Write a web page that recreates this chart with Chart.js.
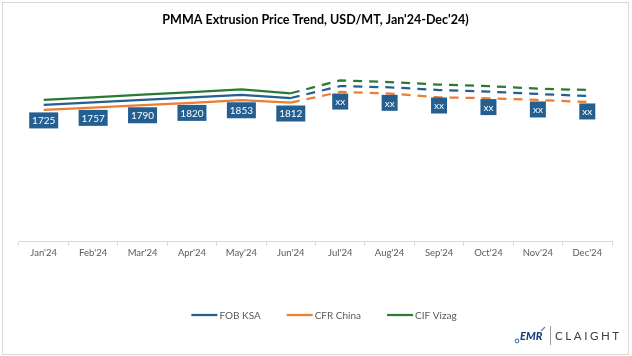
<!DOCTYPE html>
<html>
<head>
<meta charset="utf-8">
<script src="https://cdn.jsdelivr.net/npm/chart.js@4.4.1/dist/chart.umd.min.js"></script>
<style>
  html, body { margin: 0; padding: 0; background: #fff; }
  #wrap { position: relative; width: 632px; height: 356px; }
  canvas { display: block; }
</style>
</head>
<body>
<div id="wrap"><canvas id="c" width="632" height="356"></canvas></div>
<script>
const months = ["Jan'24","Feb'24","Mar'24","Apr'24","May'24","Jun'24","Jul'24","Aug'24","Sep'24","Oct'24","Nov'24","Dec'24"];
const fobKsa   = [1725,1757,1790,1820,1853,1812,1963,1947,1913,1893,1863,1838];
const cfrChina = [1662,1692,1722,1752,1785,1755,1888,1868,1821,1809,1787,1762];
const cifVizag = [1787,1820,1855,1887,1920,1872,2035,2013,1981,1963,1930,1913];
const fobLabels = ["1725","1757","1790","1820","1853","1812","xx","xx","xx","xx","xx","xx"];
const seriesNames = ["FOB KSA","CFR China","CIF Vizag"];
const seriesColors = ["#245F92","#ED7D31","#2A7A34"];
const forecastFrom = 5; // index where dashed (forecast) part begins

const FONT = "Lato, 'Open Sans', sans-serif";

function mkDataset(name, data, color) {
  return {
    label: name,
    data: data,
    borderColor: color,
    backgroundColor: color,
    borderWidth: 2.25,
    pointRadius: 0,
    pointHoverRadius: 0,
    tension: 0,
    borderCapStyle: 'butt',
    segment: {
      borderDash: ctx => ctx.p0DataIndex >= forecastFrom ? [9, 7] : undefined
    }
  };
}

const frame = {
  id: 'frame',
  afterDraw(chart) {
    const ctx = chart.ctx;
    ctx.save();
    ctx.strokeStyle = '#d9d9d9';
    ctx.lineWidth = 1;
    ctx.strokeRect(2.5, 2.5, 626, 352);
    ctx.restore();
  }
};

const dataLabels = {
  id: 'dataLabels',
  afterDatasetsDraw(chart) {
    const ctx = chart.ctx;
    const meta = chart.getDatasetMeta(0);
    ctx.save();
    ctx.font = "10px " + FONT;
    ctx.textAlign = 'center';
    ctx.textBaseline = 'middle';
    meta.data.forEach((pt, i) => {
      const txt = fobLabels[i];
      const w = Math.round(ctx.measureText(txt).width + 6);
      const h = 16;
      const x = pt.x - w / 2;
      const y = pt.y + 7.5;
      ctx.fillStyle = '#245F92';
      ctx.fillRect(x, y, w, h);
      ctx.fillStyle = '#ffffff';
      ctx.fillText(txt, pt.x, y + h / 2 + 0.5);
    });
    ctx.restore();
  }
};

const customLegend = {
  id: 'customLegend',
  afterDraw(chart) {
    const ctx = chart.ctx;
    ctx.save();
    ctx.font = "10px " + FONT;
    const lineLen = 26, gapLT = 2, gapItem = 26;
    const items = chart.data.datasets.map(ds => ({
      text: ds.label, color: ds.borderColor,
      w: lineLen + gapLT + ctx.measureText(ds.label).width
    }));
    const total = items.reduce((s, it) => s + it.w, 0) + gapItem * (items.length - 1);
    let x = 324 - total / 2;
    const y = 315;
    items.forEach(it => {
      ctx.strokeStyle = it.color;
      ctx.lineWidth = 2.25;
      ctx.beginPath();
      ctx.moveTo(x, y);
      ctx.lineTo(x + lineLen, y);
      ctx.stroke();
      ctx.fillStyle = '#595959';
      ctx.textBaseline = 'middle';
      ctx.textAlign = 'left';
      ctx.fillText(it.text, x + lineLen + gapLT, y + 0.5);
      x += it.w + gapItem;
    });
    ctx.restore();
  }
};

const logo = {
  id: 'logo',
  afterDraw(chart) {
    const ctx = chart.ctx;
    ctx.save();
    ctx.fillStyle = '#1C3F7C';
    ctx.font = "italic 900 11px " + FONT;
    ctx.textBaseline = 'middle';
    ctx.textAlign = 'left';
    ctx.fillText('EMR', 520, 336);
    ctx.strokeStyle = '#3A8FD0';
    ctx.lineWidth = 1.2;
    ctx.beginPath();
    ctx.arc(517, 341, 1.8, 0, Math.PI * 2);
    ctx.stroke();
    ctx.beginPath();
    ctx.moveTo(541, 331);
    ctx.lineTo(545, 327);
    ctx.stroke();
    ctx.strokeStyle = '#9a9a9a';
    ctx.lineWidth = 1;
    ctx.beginPath();
    ctx.moveTo(550.5, 326);
    ctx.lineTo(550.5, 345);
    ctx.stroke();
    ctx.fillStyle = '#404040';
    ctx.font = "11.5px " + FONT;
    try { ctx.letterSpacing = '2.6px'; } catch (e) {}
    ctx.fillText('CLAIGHT', 555, 336.5);
    ctx.restore();
  }
};

new Chart(document.getElementById('c'), {
  type: 'line',
  data: {
    labels: months,
    datasets: [
      mkDataset(seriesNames[0], fobKsa, seriesColors[0]),
      mkDataset(seriesNames[1], cfrChina, seriesColors[1]),
      mkDataset(seriesNames[2], cifVizag, seriesColors[2])
    ]
  },
  options: {
    responsive: false,
    animation: false,
    devicePixelRatio: 1,
    layout: { padding: { left: 19, right: 20, top: 0, bottom: 95 } },
    plugins: {
      legend: { display: false },
      tooltip: { enabled: false },
      title: {
        display: true,
        text: "PMMA Extrusion Price Trend, USD/MT, Jan'24-Dec'24)",
        color: '#000000',
        font: { family: FONT, size: 12.5, weight: 'bold' },
        padding: { top: 12.5, bottom: 16 }
      }
    },
    scales: {
      x: {
        offset: true,
        grid: {
          offset: true,
          drawOnChartArea: false,
          drawTicks: true,
          tickLength: 4,
          color: '#d9d9d9'
        },
        border: { display: true, color: '#d9d9d9', width: 1 },
        ticks: {
          color: '#595959',
          font: { family: FONT, size: 9.5 },
          padding: 2,
          maxRotation: 0,
          autoSkip: false
        }
      },
      y: {
        display: false,
        min: 0,
        max: 2500
      }
    }
  },
  plugins: [frame, dataLabels, customLegend, logo]
});
</script>
</body>
</html>
